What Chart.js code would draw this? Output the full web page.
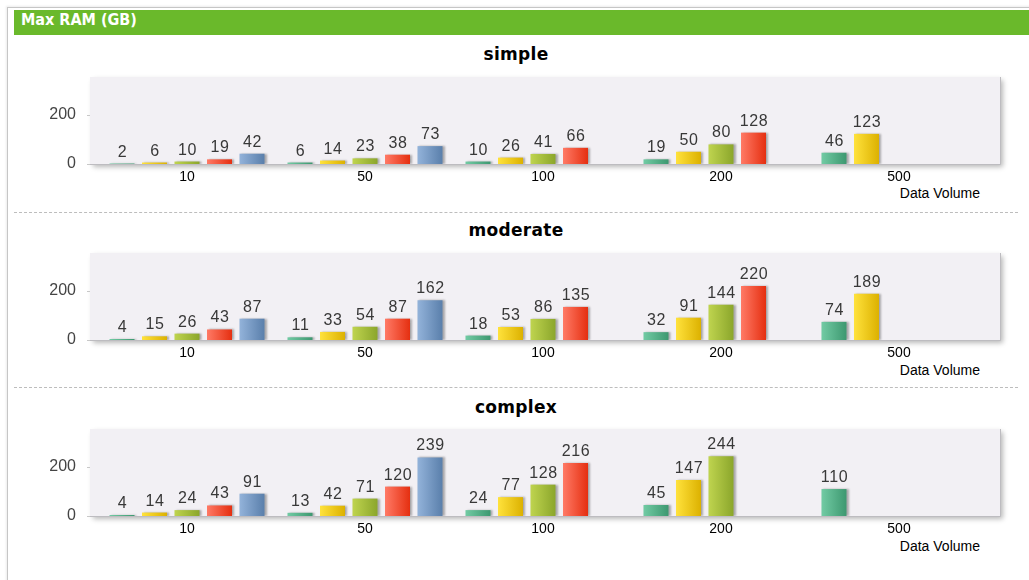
<!DOCTYPE html>
<html>
<head>
<meta charset="utf-8">
<script src="https://cdn.jsdelivr.net/npm/chart.js@4.4.1/dist/chart.umd.min.js"></script>
<style>
  html, body { margin: 0; padding: 0; background: #ffffff; width: 1029px; height: 580px; overflow: hidden; }
  #frame { position: absolute; left: 7px; top: 7px; width: 1040px; height: 600px;
           border-left: 1px solid #c6c6c6; border-top: 1px solid #c6c6c6;
           box-shadow: -1px -1px 2px rgba(0,0,0,0.08); }
  #header { position: absolute; left: 14px; top: 10px; width: 1015px; height: 25px; background: #6ab92b; }
  #header span { position: absolute; left: 7px; top: 0; line-height: 25px; color: #ffffff;
                 font: bold 16px "DejaVu Sans Condensed", "DejaVu Sans", sans-serif; }
  .ptitle { position: absolute; left: 0; width: 1032px; text-align: center; height: 20px; line-height: 20px;
            font: bold 17px "DejaVu Sans", sans-serif; color: #000; letter-spacing: 0.3px; }
  .sep { position: absolute; left: 14px; width: 1004px; height: 0; border-top: 1px dashed #bdbdbd; }
  .xtitle { position: absolute; right: 49px; height: 16px; line-height: 16px;
            font: 14px "Liberation Sans", Arial, sans-serif; color: #000; }
  .cv { position: absolute; left: 0; width: 1029px; height: 150px; }
</style>
</head>
<body>
<div id="frame"></div>
<div id="header"><span>Max RAM (GB)</span></div>

<div class="ptitle" style="top:44px">simple</div>
<div class="ptitle" style="top:220px">moderate</div>
<div class="ptitle" style="top:397px">complex</div>

<div class="xtitle" style="top:185px">Data Volume</div>
<div class="xtitle" style="top:362px">Data Volume</div>
<div class="xtitle" style="top:538px">Data Volume</div>

<div class="sep" style="top:212px"></div>
<div class="sep" style="top:387px"></div>

<div class="cv" style="top:60px"><canvas id="c0" width="1029" height="150"></canvas></div>
<div class="cv" style="top:236px"><canvas id="c1" width="1029" height="150"></canvas></div>
<div class="cv" style="top:412px"><canvas id="c2" width="1029" height="150"></canvas></div>

<script>
// ---- data ----
const categories = ["10", "50", "100", "200", "500"];
const yTickValues = [0, 200];
const panelTitles = ["simple", "moderate", "complex"];

const simpleS1 = [2, 6, 10, 19, 46];
const simpleS2 = [6, 14, 26, 50, 123];
const simpleS3 = [10, 23, 41, 80, null];
const simpleS4 = [19, 38, 66, 128, null];
const simpleS5 = [42, 73, null, null, null];

const moderateS1 = [4, 11, 18, 32, 74];
const moderateS2 = [15, 33, 53, 91, 189];
const moderateS3 = [26, 54, 86, 144, null];
const moderateS4 = [43, 87, 135, 220, null];
const moderateS5 = [87, 162, null, null, null];

const complexS1 = [4, 13, 24, 45, 110];
const complexS2 = [14, 42, 77, 147, null];
const complexS3 = [24, 71, 128, 244, null];
const complexS4 = [43, 120, 216, null, null];
const complexS5 = [91, 239, null, null, null];

const panels = [
  [simpleS1, simpleS2, simpleS3, simpleS4, simpleS5],
  [moderateS1, moderateS2, moderateS3, moderateS4, moderateS5],
  [complexS1, complexS2, complexS3, complexS4, complexS5]
];

// ---- styles ----
const seriesColors = [
  ["#72cba4", "#3d9870"],
  ["#ffe23c", "#dcb100"],
  ["#bfd44f", "#8ba62b"],
  ["#ff7a66", "#e52f10"],
  ["#93b3da", "#5a7fab"]
];
const CAT_PCT = 0.913, BAR_PCT = 0.77;

function gradientFor(ctx, dsIndex) {
  const chart = ctx.chart;
  const xs = chart.scales && chart.scales.x;
  if (ctx.type !== 'data' || !xs || !xs.width) return seriesColors[dsIndex][0];
  const n = chart.data.datasets.length;
  const catW = xs.width / chart.data.labels.length;
  const size = catW * CAT_PCT;
  const slot = size / n;
  const center = xs.getPixelForValue(ctx.dataIndex) - size / 2 + slot * (dsIndex + 0.5);
  const w = slot * BAR_PCT;
  const g = chart.ctx.createLinearGradient(center - w / 2, 0, center + w / 2, 0);
  g.addColorStop(0, seriesColors[dsIndex][0]);
  g.addColorStop(1, seriesColors[dsIndex][1]);
  return g;
}

const plotBg = {
  id: 'plotBg',
  beforeDatasetsDraw(chart) {
    const a = chart.chartArea, c = chart.ctx;
    const l = a.left - 8, r = a.right + 12;
    c.save();
    c.shadowColor = 'rgba(0,0,0,0.28)';
    c.shadowBlur = 5; c.shadowOffsetX = 3; c.shadowOffsetY = 3;
    c.fillStyle = '#f2f0f4';
    c.fillRect(l, a.top, r - l, a.bottom - a.top);
    c.restore();
    c.save();
    c.strokeStyle = '#bdbcc0'; c.lineWidth = 1;
    c.beginPath();
    c.moveTo(l, a.bottom + 0.5); c.lineTo(r + 0.5, a.bottom + 0.5); c.lineTo(r + 0.5, a.top);
    c.stroke();
    const ys = chart.scales.y;
    c.strokeStyle = '#c8c8c8';
    yTickValues.forEach(v => {
      const y = Math.round(ys.getPixelForValue(v)) + 0.5;
      c.beginPath(); c.moveTo(l - 3, y); c.lineTo(l, y); c.stroke();
    });
    c.restore();
    c.save();
    c.shadowColor = 'rgba(0,0,0,0.30)';
    c.shadowBlur = 2; c.shadowOffsetX = 2; c.shadowOffsetY = 0;
  },
  afterDatasetsDraw(chart) {
    const c = chart.ctx;
    c.restore();
    c.save();
    c.fillStyle = '#383838';
    c.font = '16px "Liberation Sans", Arial, sans-serif';
    try { c.letterSpacing = '0.6px'; } catch (e) {}
    c.textAlign = 'center';
    c.textBaseline = 'alphabetic';
    chart.data.datasets.forEach((ds, di) => {
      const meta = chart.getDatasetMeta(di);
      meta.data.forEach((el, i) => {
        const v = ds.data[i];
        if (v === null || v === undefined) return;
        c.fillText(String(v), el.x + 0.5, el.y - 7);
      });
    });
    c.restore();
  }
};

panels.forEach((series, p) => {
  new Chart(document.getElementById('c' + p), {
    type: 'bar',
    data: {
      labels: categories,
      datasets: series.map((d, i) => ({
        label: panelTitles[p] + ' ' + (i + 1),
        data: d,
        backgroundColor: (ctx) => gradientFor(ctx, i),
        borderWidth: 0,
        categoryPercentage: CAT_PCT,
        barPercentage: BAR_PCT
      }))
    },
    options: {
      responsive: false,
      animation: false,
      events: [],
      layout: { padding: { left: 0, right: 41, top: 17, bottom: 0 } },
      plugins: { legend: { display: false }, tooltip: { enabled: false }, title: { display: false } },
      scales: {
        x: {
          offset: true,
          grid: { display: false, drawTicks: false },
          border: { display: false },
          ticks: { color: '#000', padding: 5, font: { family: '"Liberation Sans", Arial, sans-serif', size: 14 }, maxRotation: 0 },
          afterFit(scale) { scale.height = 46; scale.paddingLeft = 0; scale.paddingRight = 0; }
        },
        y: {
          min: 0, max: 355,
          grid: { display: false, drawTicks: false },
          border: { display: false },
          ticks: {
            stepSize: 200, includeBounds: false, padding: 22, color: '#444',
            font: { family: '"Liberation Sans", Arial, sans-serif', size: 16 }
          },
          afterBuildTicks(scale) { scale.ticks = yTickValues.map(v => ({ value: v })); },
          afterFit(scale) { scale.width = 98; scale.paddingTop = 0; scale.paddingBottom = 0; }
        }
      }
    },
    plugins: [plotBg]
  });
});
</script>
</body>
</html>
